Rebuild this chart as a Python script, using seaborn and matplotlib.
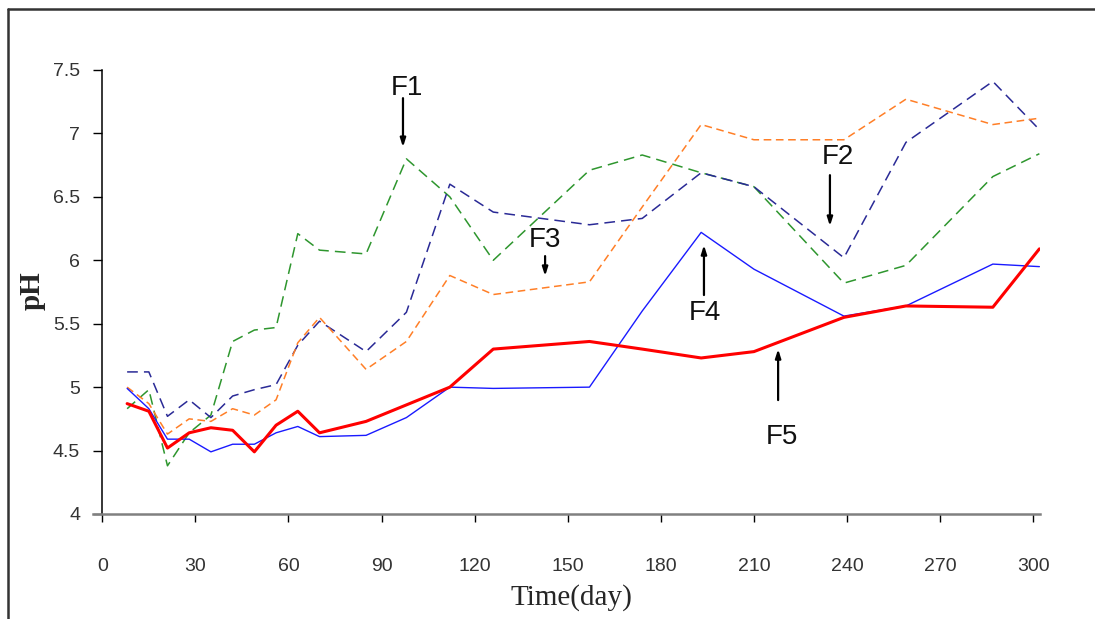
import numpy as np
import pandas as pd
import seaborn as sns
import matplotlib
matplotlib.use("Agg")
import matplotlib.pyplot as plt
from matplotlib.lines import Line2D

# sampling days
days = [8, 15, 21, 28, 35, 42, 49, 56, 63, 70, 85, 98, 112, 126, 157, 174, 193, 210, 239, 259, 287, 302]

f1 = [4.83, 4.98, 4.38, 4.64, 4.78, 5.36, 5.45, 5.47, 6.21, 6.08, 6.05, 6.80, 6.50, 6.00, 6.71, 6.83, 6.69, 6.58, 5.82, 5.96, 6.66, 6.84]
f2 = [5.12, 5.12, 4.77, 4.90, 4.76, 4.93, 4.98, 5.02, 5.33, 5.52, 5.28, 5.59, 6.60, 6.38, 6.28, 6.33, 6.69, 6.58, 6.02, 6.93, 7.41, 7.03]
f3 = [5.00, 4.87, 4.63, 4.75, 4.73, 4.83, 4.78, 4.90, 5.35, 5.55, 5.14, 5.36, 5.88, 5.73, 5.83, 6.42, 7.07, 6.95, 6.95, 7.27, 7.07, 7.12]
f4 = [4.99, 4.83, 4.59, 4.59, 4.49, 4.55, 4.55, 4.64, 4.69, 4.61, 4.62, 4.76, 5.00, 4.99, 5.00, 5.60, 6.22, 5.93, 5.56, 5.64, 5.97, 5.95]
f5 = [4.87, 4.81, 4.52, 4.64, 4.68, 4.66, 4.49, 4.70, 4.81, 4.64, 4.73, 4.86, 5.00, 5.30, 5.36, 5.30, 5.23, 5.28, 5.55, 5.64, 5.63, 6.09]

yticks = [4, 4.5, 5, 5.5, 6, 6.5, 7, 7.5]
xticks = [0, 30, 60, 90, 120, 150, 180, 210, 240, 270, 300]

sns.set_style("white")
plt.rcParams['font.family'] = ['Liberation Sans', 'DejaVu Sans']

fig = plt.figure(figsize=(10.95, 6.19), dpi=100)
ax = fig.add_axes([93/1095, 105/619, 947/1095, 444/619])

sns.lineplot(x=days, y=f1, ax=ax, color="#2e962e", lw=1.1, linestyle=(0, (7, 4)))
sns.lineplot(x=days, y=f2, ax=ax, color="#2a2a96", lw=1.1, linestyle=(0, (7, 4)))
sns.lineplot(x=days, y=f3, ax=ax, color="#ff7f27", lw=1.1, linestyle=(0, (5, 3)))
sns.lineplot(x=days, y=f4, ax=ax, color="#1a1aff", lw=1.0)
sns.lineplot(x=days, y=f5, ax=ax, color="#ff0000", lw=2.2)

ax.set_xlim(-3, 302.2)
ax.set_ylim(4, 7.5)
ax.set_xticks(xticks)
ax.set_yticks(yticks)
ax.set_yticklabels(["%g" % v for v in yticks])

ax.spines['top'].set_visible(False)
ax.spines['right'].set_visible(False)
ax.spines['left'].set_position(('data', 0))
ax.spines['left'].set_color("black")
ax.spines['left'].set_linewidth(1.1)
ax.spines['bottom'].set_color("#808080")
ax.spines['bottom'].set_linewidth(1.8)

ax.tick_params(axis='y', direction='out', length=6.5, width=1, color='black',
               pad=9.5, labelsize=14, labelcolor='#333333', left=True)
ax.tick_params(axis='x', direction='out', length=6, width=1, color='black',
               pad=26, labelsize=14, labelcolor='#333333', bottom=True)

ax.set_xlabel("Time(day)", family="Liberation Serif", fontsize=21, va='center')
ax.xaxis.set_label_coords(0.505, -0.189)
ax.set_ylabel("pH", family="Liberation Serif", fontsize=21, fontweight='bold', va='center')
ax.yaxis.set_label_coords(-0.064, 0.502)

# arrows and labels
notes = [
    ("F1", 98.2, 7.357, 96.9, 7.278, 6.892),
    ("F2", 237.1, 6.813, 234.5, 6.671, 6.27),
    ("F3", 142.7, 6.159, 142.7, 6.033, 5.876),
    ("F4", 194.2, 5.584, 193.9, 5.726, 6.12),
    ("F5", 219.0, 4.607, 217.8, 4.898, 5.30),
]
for lab, tx, ty, ax_x, y0, y1 in notes:
    ax.text(tx, ty, lab, ha='center', va='center', fontsize=20, color='#111111')
    ax.annotate("", xy=(ax_x, y1), xytext=(ax_x, y0),
                arrowprops=dict(arrowstyle='-|>,head_length=0.5,head_width=0.16',
                                lw=1.6, color='black', shrinkA=0, shrinkB=0))

# frame lines of the original figure
fig.add_artist(Line2D([8/1095, 8/1095], [0, 1-9/619], transform=fig.transFigure, color='#333333', lw=1.8))
fig.add_artist(Line2D([8/1095, 1], [1-9/619, 1-9/619], transform=fig.transFigure, color='#333333', lw=1.8))

fig.savefig("out.png", dpi=100)
